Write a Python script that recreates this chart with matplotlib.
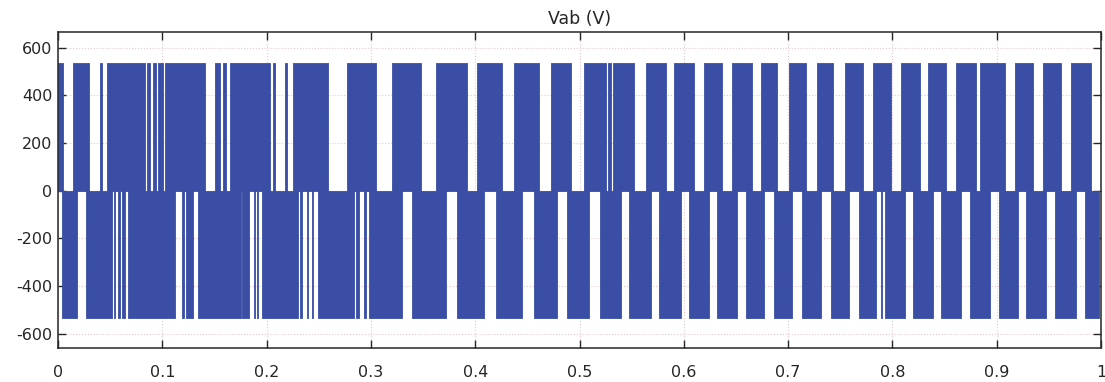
import matplotlib
matplotlib.use("Agg")
import matplotlib.pyplot as plt

plt.rcParams['axes.unicode_minus'] = False

# Line-to-line voltage Vab: intervals (s) where the PWM pulses are at +Vdc / -Vdc
v_peak = 535

pos_start = [0.0, 0.0144, 0.0402, 0.0469, 0.0852, 0.0909, 0.0957, 0.1024, 0.1502, 0.1579,
             0.1646, 0.2057, 0.2172, 0.2249, 0.2766, 0.3206, 0.3627, 0.4019, 0.4373, 0.4727,
             0.5043, 0.5273, 0.5321, 0.5636, 0.5904, 0.6191, 0.6459, 0.6737, 0.7005, 0.7273,
             0.7550, 0.7818, 0.8086, 0.8344, 0.8612, 0.8842, 0.9177, 0.9445, 0.9713]
pos_end = [0.0048, 0.0297, 0.0421, 0.0833, 0.0880, 0.0938, 0.1005, 0.1407, 0.1550, 0.1608,
           0.2029, 0.2077, 0.2191, 0.2584, 0.3053, 0.3483, 0.3923, 0.4258, 0.4612, 0.4919,
           0.5254, 0.5301, 0.5522, 0.5828, 0.6096, 0.6364, 0.6651, 0.6890, 0.7167, 0.7435,
           0.7722, 0.7990, 0.8268, 0.8517, 0.8804, 0.9081, 0.9349, 0.9617, 0.9904]

neg_start = [0.0038, 0.0268, 0.0536, 0.0574, 0.0612, 0.0670, 0.1187, 0.1225, 0.1340, 0.1761,
             0.1876, 0.1904, 0.1952, 0.2316, 0.2383, 0.2440, 0.2488, 0.2861, 0.2938, 0.2986,
             0.3397, 0.3828, 0.4201, 0.4565, 0.4880, 0.5196, 0.5474, 0.5761, 0.6048, 0.6316,
             0.6593, 0.6861, 0.7129, 0.7407, 0.7675, 0.7895, 0.7933, 0.8201, 0.8469, 0.8746,
             0.9024, 0.9282, 0.9560, 0.9847]
neg_end = [0.0182, 0.0517, 0.0545, 0.0593, 0.0641, 0.1120, 0.1206, 0.1292, 0.1751, 0.1828,
           0.1885, 0.1914, 0.2297, 0.2344, 0.2392, 0.2431, 0.2842, 0.2890, 0.2957, 0.3301,
           0.3722, 0.4086, 0.4450, 0.4785, 0.5091, 0.5397, 0.5684, 0.5971, 0.6239, 0.6507,
           0.6766, 0.7033, 0.7311, 0.7579, 0.7847, 0.7904, 0.8124, 0.8392, 0.8660, 0.8938,
           0.9206, 0.9474, 0.9761, 0.9981]

x_ticks = [0, 0.1, 0.2, 0.3, 0.4, 0.5, 0.6, 0.7, 0.8, 0.9, 1]
x_labels = ['0', '0.1', '0.2', '0.3', '0.4', '0.5', '0.6', '0.7', '0.8', '0.9', '1']
y_ticks = [-600, -400, -200, 0, 200, 400, 600]

blue = '#3a4ea5'

fig = plt.figure(figsize=(11.05, 3.82), dpi=100)
ax = fig.add_axes([0.0525, 0.089, 0.9439, 0.827])

pos_bars = [(s, e - s) for s, e in zip(pos_start, pos_end)]
neg_bars = [(s, e - s) for s, e in zip(neg_start, neg_end)]
ax.broken_barh(pos_bars, (0, v_peak), facecolors=blue, edgecolors=blue, linewidth=0.6)
ax.broken_barh(neg_bars, (-v_peak, v_peak), facecolors=blue, edgecolors=blue, linewidth=0.6)

ax.set_xlim(0, 1)
ax.set_ylim(-660, 665)
ax.set_xticks(x_ticks)
ax.set_xticklabels(x_labels)
ax.set_yticks(y_ticks)

ax.grid(True, color='#e6c9cf', linestyle=':', linewidth=0.8)
ax.set_axisbelow(True)
ax.tick_params(direction='in', top=True, right=True, length=6, width=1,
               labelsize=11.5, colors='#262626')
ax.tick_params(axis='x', pad=12)
ax.tick_params(axis='y', pad=4)
for sp in ax.spines.values():
    sp.set_color('#262626')
    sp.set_linewidth(1.1)

ax.set_title('Vab (V)', fontsize=12.5, color='#262626', pad=6)

fig.savefig('out.png', dpi=100)
